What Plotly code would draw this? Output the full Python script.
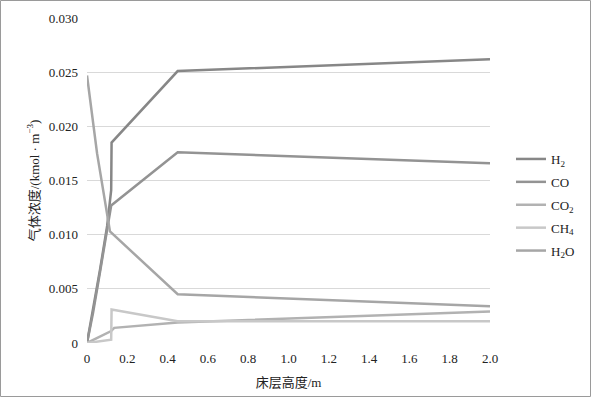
import plotly.graph_objects as go

# Bed height (m) and gas concentrations (kmol/m^3)
h2_x = [0, 0.03, 0.065, 0.10, 0.12, 0.122, 0.45, 2.0]
h2_y = [0, 0.0030, 0.0068, 0.0108, 0.0141, 0.0185, 0.0251, 0.0262]

co_x = [0, 0.03, 0.065, 0.10, 0.12, 0.45, 2.0]
co_y = [0, 0.0028, 0.0066, 0.0103, 0.0127, 0.0176, 0.0166]

co2_x = [0, 0.12, 0.135, 0.45, 2.0]
co2_y = [0, 0.0011, 0.0014, 0.0019, 0.0029]

ch4_x = [0, 0.12, 0.122, 0.45, 2.0]
ch4_y = [0, 0.0003, 0.0031, 0.0020, 0.0020]

h2o_x = [0, 0.05, 0.114, 0.45, 2.0]
h2o_y = [0.0247, 0.0175, 0.0103, 0.0045, 0.0034]

series = [
    ("H<sub>2</sub>", h2_x, h2_y, "#878787"),
    ("CO", co_x, co_y, "#939393"),
    ("CO<sub>2</sub>", co2_x, co2_y, "#b2b2b2"),
    ("CH<sub>4</sub>", ch4_x, ch4_y, "#c8c8c8"),
    ("H<sub>2</sub>O", h2o_x, h2o_y, "#a6a6a6"),
]

x_ticks = [0, 0.2, 0.4, 0.6, 0.8, 1.0, 1.2, 1.4, 1.6, 1.8, 2.0]
x_labels = ["0", "0.2", "0.4", "0.6", "0.8", "1.0", "1.2", "1.4", "1.6", "1.8", "2.0"]
y_ticks = [0, 0.005, 0.010, 0.015, 0.020, 0.025, 0.030]
y_labels = ["0", "0.005", "0.010", "0.015", "0.020", "0.025", "0.030"]

font_family = "Liberation Serif, Noto Sans CJK SC"
tfont = dict(family=font_family, size=13, color="#222222")

fig = go.Figure()
for i, (name, xs, ys, col) in enumerate(series):
    fig.add_trace(go.Scatter(x=xs, y=ys, name=name, mode="lines", legendgroup=f"g{i}",
                             line=dict(color=col, width=2.5)))

L, R, T, B = 87, 101, 18, 54
W, H = 591, 397
pw, ph = W - L - R, H - T - B

fig.update_layout(
    width=W, height=H,
    margin=dict(l=L, r=R, t=T, b=B, autoexpand=False),
    paper_bgcolor="white", plot_bgcolor="white",
    font=tfont,
    showlegend=True,
    legend=dict(x=(511 - L) / pw, xanchor="left", y=(343 - 205) / ph, yanchor="middle",
                font=tfont, tracegroupgap=3,
                itemwidth=30, bgcolor="rgba(0,0,0,0)"),
    xaxis=dict(range=[0, 2.0], tickvals=x_ticks, ticktext=x_labels, tickfont=tfont,
               showgrid=False, zeroline=False, showline=False, ticks="", ticklabelstandoff=6,
               title=dict(text="床层高度/m", standoff=12, font=tfont),
               automargin=False, fixedrange=True),
    yaxis=dict(range=[0, 0.030], tickvals=y_ticks, ticktext=y_labels, tickfont=tfont,
               showgrid=True, gridcolor="#d9d9d9", gridwidth=1,
               zeroline=False, showline=False, ticks="", ticklabelstandoff=8,
               title=dict(text="气体浓度/(kmol · m<sup>−3</sup>)", standoff=6, font=tfont),
               automargin=False, fixedrange=True),
    shapes=[dict(type="rect", xref="paper", yref="paper",
                 x0=(0.5 - L) / pw, x1=(W - 0.5 - L) / pw,
                 y0=(343 - (H - 0.5)) / ph, y1=(343 - 0.5) / ph,
                 line=dict(color="#9a9a9a", width=1), fillcolor="rgba(0,0,0,0)",
                 layer="below")],
)

fig.write_html("out.html")
